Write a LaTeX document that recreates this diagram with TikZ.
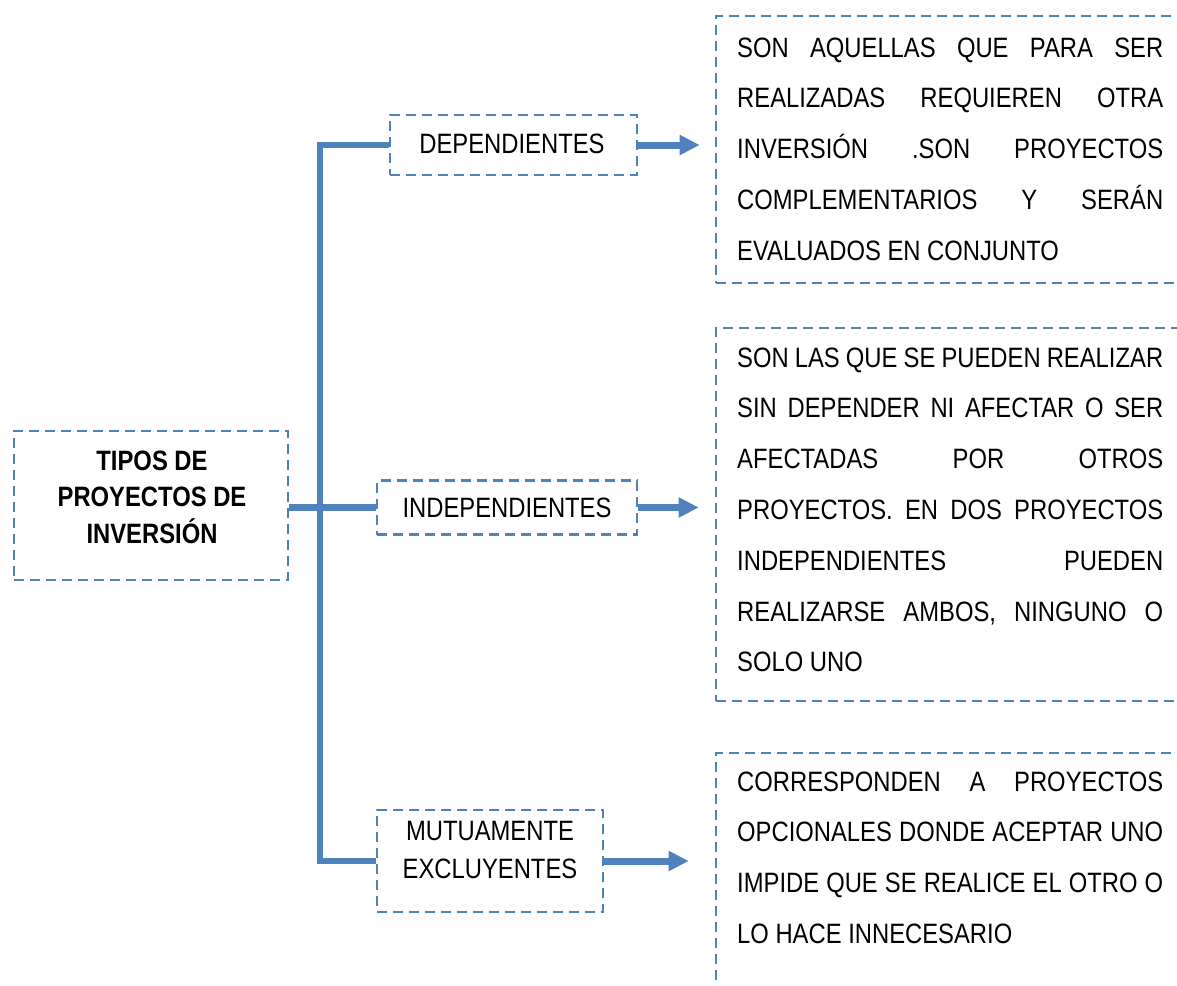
\documentclass[tikz,border=0pt]{standalone}
\usepackage{fontspec}
\setmainfont{Liberation Sans}[FakeStretch=0.85]
\usetikzlibrary{arrows.meta}
\definecolor{blu}{HTML}{4F81BD}
\newcommand\jline[1]{\makebox[\linewidth][s]{#1}}
\tikzset{
  dbox/.style={draw=blu, line width=2.6pt, dash pattern=on 10pt off 6pt, inner sep=0pt, rectangle},
  txt/.style={inner sep=0pt, font=\fontsize{28}{38}\selectfont, align=center},
  para/.style={inner sep=0pt, anchor=base west, font=\fontsize{28}{50.8}\selectfont},
  trunk/.style={draw=blu, line width=6.5pt, line join=miter},
  arr/.style={draw=blu, line width=7pt, -{Triangle[length=20pt,width=19pt]}}
}
\begin{document}
\begin{tikzpicture}[x=1pt,y=-1pt]
\path[use as bounding box] (0,0) rectangle (1177,985);
\clip (0,0) rectangle (1177,985);
% main box
\node[dbox, minimum width=274pt, minimum height=149pt] (main) at (151,505.5) {};
\node[txt, font=\bfseries\fontsize{28}{36.5}\selectfont] (maint) at (152,497) {TIPOS DE\\PROYECTOS DE\\INVERSIÓN};
% category boxes
\node[dbox, minimum width=247pt, minimum height=60pt] (dep) at (513.5,145) {};
\node[txt] (dept) at (512,144) {DEPENDIENTES};
\node[dbox, minimum width=260pt, minimum height=54pt] (ind) at (507,507.5) {};
\node[txt] (indt) at (507,508) {INDEPENDIENTES};
\node[dbox, minimum width=226pt, minimum height=102pt] (mut) at (490,861) {};
\node[txt] (mutt) at (490,850) {MUTUAMENTE\\EXCLUYENTES};
% description boxes
\node[dbox, minimum width=534pt, minimum height=267pt] (b1) at (983,149.5) {};
\node[dbox, minimum width=534pt, minimum height=373pt] (b2) at (983,514.5) {};
\node[dbox, minimum width=534pt, minimum height=347pt] (b3) at (983,926.5) {};
\node[para] (t1) at (737,57) {\parbox[t]{426pt}{%
\jline{SON AQUELLAS QUE PARA SER}\\
\jline{REALIZADAS REQUIEREN OTRA}\\
\jline{INVERSIÓN .SON PROYECTOS}\\
\jline{COMPLEMENTARIOS Y SERÁN}\\
EVALUADOS EN CONJUNTO}};
\node[para] (t2) at (737,367) {\parbox[t]{426pt}{%
\jline{SON LAS QUE SE PUEDEN REALIZAR}\\
\jline{SIN DEPENDER NI AFECTAR O SER}\\
\jline{AFECTADAS POR OTROS}\\
\jline{PROYECTOS. EN DOS PROYECTOS}\\
\jline{INDEPENDIENTES PUEDEN}\\
\jline{REALIZARSE AMBOS, NINGUNO O}\\
SOLO UNO}};
\node[para] (t3) at (737,791) {\parbox[t]{426pt}{%
\jline{CORRESPONDEN A PROYECTOS}\\
\jline{OPCIONALES DONDE ACEPTAR UNO}\\
\jline{IMPIDE QUE SE REALICE EL OTRO O}\\
LO HACE INNECESARIO}};
% connectors
\coordinate (tx) at (320,500);
\draw[trunk] (dep.west) -- (dep.west -| tx) -- (mut.west -| tx) -- (mut.west);
\draw[trunk] (main.east |- ind.west) -- (ind.west);
\draw[arr, shorten >=15pt] (dep.east) -- (dep.east -| b1.west);
\draw[arr, shorten >=16pt] (ind.east) -- (ind.east -| b2.west);
\draw[arr, shorten >=26pt] (mut.east) -- (mut.east -| b3.west);
\end{tikzpicture}
\end{document}
